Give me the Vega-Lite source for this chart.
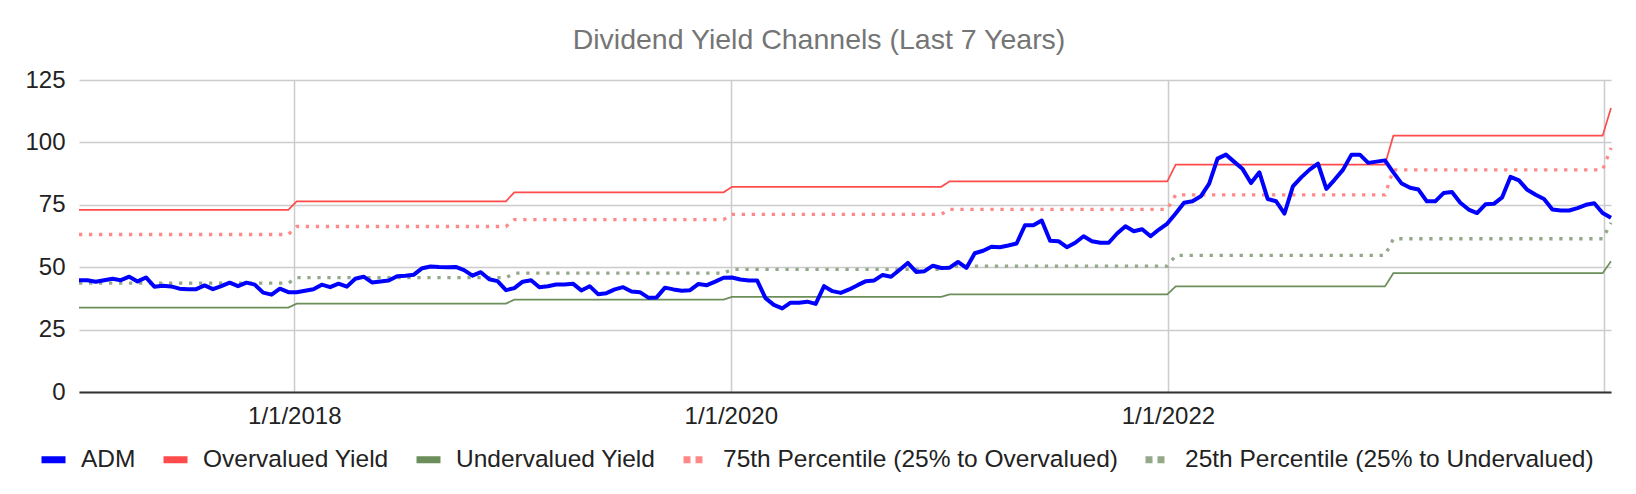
{
  "$schema": "https://vega.github.io/schema/vega-lite/v6.json",
  "autosize": {"type": "none"},
  "padding": {"left": 79, "top": 80, "right": 25, "bottom": 102},
  "width": 1532,
  "height": 312,
  "title": {
    "text": "Dividend Yield Channels (Last 7 Years)",
    "fontSize": 28.5,
    "fontWeight": "normal",
    "color": "#757575",
    "anchor": "middle",
    "dx": -26,
    "offset": 14
  },
  "datasets": {
    "adm": [
      {"date": "2017-01-06", "value": 44.8}, {"date": "2017-01-20", "value": 44.8}, {"date": "2017-02-03", "value": 44.2},
      {"date": "2017-02-17", "value": 44.8}, {"date": "2017-03-03", "value": 45.4}, {"date": "2017-03-17", "value": 44.8},
      {"date": "2017-03-31", "value": 46.2}, {"date": "2017-04-14", "value": 44.3}, {"date": "2017-04-28", "value": 45.9},
      {"date": "2017-05-12", "value": 42.2}, {"date": "2017-05-26", "value": 42.6}, {"date": "2017-06-09", "value": 42.3},
      {"date": "2017-06-23", "value": 41.4}, {"date": "2017-07-07", "value": 41.2}, {"date": "2017-07-21", "value": 41.2},
      {"date": "2017-08-04", "value": 42.7}, {"date": "2017-08-18", "value": 41.2}, {"date": "2017-09-01", "value": 42.4},
      {"date": "2017-09-15", "value": 43.8}, {"date": "2017-09-29", "value": 42.4}, {"date": "2017-10-13", "value": 43.8},
      {"date": "2017-10-27", "value": 43.0}, {"date": "2017-11-10", "value": 39.8}, {"date": "2017-11-24", "value": 39.0},
      {"date": "2017-12-08", "value": 41.4}, {"date": "2017-12-22", "value": 40.0},
      {"date": "2018-01-05", "value": 40.0}, {"date": "2018-01-19", "value": 40.6}, {"date": "2018-02-02", "value": 41.2},
      {"date": "2018-02-16", "value": 43.0}, {"date": "2018-03-02", "value": 42.0}, {"date": "2018-03-16", "value": 43.4},
      {"date": "2018-03-30", "value": 42.2}, {"date": "2018-04-13", "value": 45.4}, {"date": "2018-04-27", "value": 46.2},
      {"date": "2018-05-11", "value": 43.9}, {"date": "2018-05-25", "value": 44.3}, {"date": "2018-06-08", "value": 44.7},
      {"date": "2018-06-22", "value": 46.4}, {"date": "2018-07-06", "value": 46.6}, {"date": "2018-07-20", "value": 47.0},
      {"date": "2018-08-03", "value": 49.6}, {"date": "2018-08-17", "value": 50.3}, {"date": "2018-08-31", "value": 50.1},
      {"date": "2018-09-14", "value": 50.0}, {"date": "2018-09-28", "value": 50.1}, {"date": "2018-10-12", "value": 48.8},
      {"date": "2018-10-26", "value": 46.6}, {"date": "2018-11-09", "value": 48.0}, {"date": "2018-11-23", "value": 45.2},
      {"date": "2018-12-07", "value": 44.4}, {"date": "2018-12-21", "value": 40.8},
      {"date": "2019-01-04", "value": 41.6}, {"date": "2019-01-18", "value": 44.2}, {"date": "2019-02-01", "value": 44.8},
      {"date": "2019-02-15", "value": 42.0}, {"date": "2019-03-01", "value": 42.4}, {"date": "2019-03-15", "value": 43.1},
      {"date": "2019-03-29", "value": 43.1}, {"date": "2019-04-12", "value": 43.4}, {"date": "2019-04-26", "value": 40.7},
      {"date": "2019-05-10", "value": 42.4}, {"date": "2019-05-24", "value": 39.2}, {"date": "2019-06-07", "value": 39.6},
      {"date": "2019-06-21", "value": 41.1}, {"date": "2019-07-05", "value": 42.0}, {"date": "2019-07-19", "value": 40.3},
      {"date": "2019-08-02", "value": 40.0}, {"date": "2019-08-16", "value": 37.8}, {"date": "2019-08-30", "value": 37.9},
      {"date": "2019-09-13", "value": 41.8}, {"date": "2019-09-27", "value": 41.1}, {"date": "2019-10-11", "value": 40.6},
      {"date": "2019-10-25", "value": 40.8}, {"date": "2019-11-08", "value": 43.3}, {"date": "2019-11-22", "value": 42.8},
      {"date": "2019-12-06", "value": 44.2}, {"date": "2019-12-20", "value": 45.8},
      {"date": "2020-01-03", "value": 45.9}, {"date": "2020-01-17", "value": 45.1}, {"date": "2020-01-31", "value": 44.7},
      {"date": "2020-02-14", "value": 44.7}, {"date": "2020-02-28", "value": 37.6}, {"date": "2020-03-13", "value": 34.9},
      {"date": "2020-03-27", "value": 33.5}, {"date": "2020-04-10", "value": 35.8}, {"date": "2020-04-24", "value": 35.8},
      {"date": "2020-05-08", "value": 36.2}, {"date": "2020-05-22", "value": 35.3}, {"date": "2020-06-05", "value": 42.4},
      {"date": "2020-06-19", "value": 40.4}, {"date": "2020-07-03", "value": 39.7}, {"date": "2020-07-17", "value": 41.1},
      {"date": "2020-07-31", "value": 42.8}, {"date": "2020-08-14", "value": 44.4}, {"date": "2020-08-28", "value": 44.7},
      {"date": "2020-09-11", "value": 46.9}, {"date": "2020-09-25", "value": 46.2}, {"date": "2020-10-09", "value": 48.9},
      {"date": "2020-10-23", "value": 51.7}, {"date": "2020-11-06", "value": 48.1}, {"date": "2020-11-20", "value": 48.4},
      {"date": "2020-12-04", "value": 50.6}, {"date": "2020-12-18", "value": 49.7},
      {"date": "2021-01-01", "value": 49.8}, {"date": "2021-01-15", "value": 52.1}, {"date": "2021-01-29", "value": 49.7},
      {"date": "2021-02-12", "value": 55.6}, {"date": "2021-02-26", "value": 56.6}, {"date": "2021-03-12", "value": 58.2},
      {"date": "2021-03-26", "value": 58.0}, {"date": "2021-04-09", "value": 58.7}, {"date": "2021-04-23", "value": 59.5},
      {"date": "2021-05-07", "value": 66.8}, {"date": "2021-05-21", "value": 66.8}, {"date": "2021-06-04", "value": 68.7},
      {"date": "2021-06-18", "value": 60.6}, {"date": "2021-07-02", "value": 60.4}, {"date": "2021-07-16", "value": 58.0},
      {"date": "2021-07-30", "value": 59.8}, {"date": "2021-08-13", "value": 62.4}, {"date": "2021-08-27", "value": 60.4},
      {"date": "2021-09-10", "value": 59.8}, {"date": "2021-09-24", "value": 59.8}, {"date": "2021-10-08", "value": 63.5},
      {"date": "2021-10-22", "value": 66.4}, {"date": "2021-11-05", "value": 64.4}, {"date": "2021-11-19", "value": 65.2},
      {"date": "2021-12-03", "value": 62.4}, {"date": "2021-12-17", "value": 65.1}, {"date": "2021-12-31", "value": 67.5},
      {"date": "2022-01-14", "value": 71.5}, {"date": "2022-01-28", "value": 75.8}, {"date": "2022-02-11", "value": 76.4},
      {"date": "2022-02-25", "value": 78.4}, {"date": "2022-03-11", "value": 83.5}, {"date": "2022-03-25", "value": 93.5},
      {"date": "2022-04-08", "value": 95.1}, {"date": "2022-04-22", "value": 92.2}, {"date": "2022-05-06", "value": 89.3},
      {"date": "2022-05-20", "value": 83.7}, {"date": "2022-06-03", "value": 88.0}, {"date": "2022-06-17", "value": 77.3},
      {"date": "2022-07-01", "value": 76.4}, {"date": "2022-07-15", "value": 71.5}, {"date": "2022-07-29", "value": 82.4},
      {"date": "2022-08-12", "value": 86.0}, {"date": "2022-08-26", "value": 89.1}, {"date": "2022-09-09", "value": 91.5},
      {"date": "2022-09-23", "value": 81.4}, {"date": "2022-10-07", "value": 85.1}, {"date": "2022-10-21", "value": 89.1},
      {"date": "2022-11-04", "value": 95.1}, {"date": "2022-11-18", "value": 95.1}, {"date": "2022-12-02", "value": 91.8},
      {"date": "2022-12-16", "value": 92.3}, {"date": "2022-12-30", "value": 92.8},
      {"date": "2023-01-13", "value": 88.0}, {"date": "2023-01-27", "value": 83.5}, {"date": "2023-02-10", "value": 81.8},
      {"date": "2023-02-24", "value": 81.1}, {"date": "2023-03-10", "value": 76.4}, {"date": "2023-03-24", "value": 76.4},
      {"date": "2023-04-07", "value": 79.7}, {"date": "2023-04-21", "value": 80.1}, {"date": "2023-05-05", "value": 75.8},
      {"date": "2023-05-19", "value": 73.1}, {"date": "2023-06-02", "value": 71.7}, {"date": "2023-06-16", "value": 75.2},
      {"date": "2023-06-30", "value": 75.4}, {"date": "2023-07-14", "value": 78.0}, {"date": "2023-07-28", "value": 86.2},
      {"date": "2023-08-11", "value": 84.8}, {"date": "2023-08-25", "value": 81.0}, {"date": "2023-09-08", "value": 79.0},
      {"date": "2023-09-22", "value": 77.3}, {"date": "2023-10-06", "value": 73.1}, {"date": "2023-10-20", "value": 72.7},
      {"date": "2023-11-03", "value": 72.7}, {"date": "2023-11-17", "value": 73.7}, {"date": "2023-12-01", "value": 75.0},
      {"date": "2023-12-15", "value": 75.6}, {"date": "2023-12-29", "value": 71.7},
      {"date": "2024-01-12", "value": 69.8}
    ],
    "bands": [
      {"date": "2017-01-06", "over": 73.0, "p75": 63.1, "p25": 43.6, "under": 33.8},
      {"date": "2017-12-22", "over": 73.0, "p75": 63.1, "p25": 43.6, "under": 33.8},
      {"date": "2018-01-05", "over": 76.4, "p75": 66.3, "p25": 45.8, "under": 35.4},
      {"date": "2018-12-21", "over": 76.4, "p75": 66.3, "p25": 45.8, "under": 35.4},
      {"date": "2019-01-04", "over": 80.0, "p75": 69.1, "p25": 47.6, "under": 37.0},
      {"date": "2019-12-20", "over": 80.0, "p75": 69.1, "p25": 47.6, "under": 37.0},
      {"date": "2020-01-03", "over": 82.2, "p75": 71.2, "p25": 49.1, "under": 38.1},
      {"date": "2020-12-18", "over": 82.2, "p75": 71.2, "p25": 49.1, "under": 38.1},
      {"date": "2021-01-01", "over": 84.4, "p75": 73.2, "p25": 50.4, "under": 39.1},
      {"date": "2021-12-31", "over": 84.4, "p75": 73.2, "p25": 50.4, "under": 39.1},
      {"date": "2022-01-14", "over": 91.1, "p75": 79.0, "p25": 54.7, "under": 42.3},
      {"date": "2022-12-30", "over": 91.1, "p75": 79.0, "p25": 54.7, "under": 42.3},
      {"date": "2023-01-13", "over": 102.7, "p75": 89.0, "p25": 61.4, "under": 47.6},
      {"date": "2023-12-29", "over": 102.7, "p75": 89.0, "p25": 61.4, "under": 47.6},
      {"date": "2024-01-12", "over": 113.8, "p75": 97.8, "p25": 67.8, "under": 52.4}
    ],
    "names": [
      {"key": "over", "series": "Overvalued Yield"},
      {"key": "under", "series": "Undervalued Yield"},
      {"key": "p75", "series": "75th Percentile (25% to Overvalued)"},
      {"key": "p25", "series": "25th Percentile (25% to Undervalued)"}
    ]
  },
  "encoding": {
    "x": {
      "field": "date",
      "type": "temporal",
      "scale": {"type": "utc"},
      "axis": {
        "title": null,
        "values": [
          {"year": 2018, "month": 1, "date": 1, "utc": true},
          {"year": 2020, "month": 1, "date": 1, "utc": true},
          {"year": 2022, "month": 1, "date": 1, "utc": true},
          {"year": 2024, "month": 1, "date": 1, "utc": true}
        ],
        "labelExpr": "utcyear(datum.value) == 2024 ? '' : utcFormat(datum.value, '%-m/%-d/%Y')",
        "grid": true,
        "ticks": false,
        "domain": true,
        "domainColor": "#333333",
        "domainWidth": 2,
        "labelPadding": 12,
        "labelFlush": false,
        "labelOverlap": false
      }
    },
    "y": {
      "field": "value",
      "type": "quantitative",
      "scale": {"domain": [0, 125], "nice": false},
      "axis": {
        "title": null,
        "values": [0, 25, 50, 75, 100, 125],
        "grid": true,
        "ticks": false,
        "domain": false,
        "labelPadding": 14
      }
    },
    "color": {
      "field": "series",
      "type": "nominal",
      "scale": {
        "domain": ["ADM", "Overvalued Yield", "Undervalued Yield", "75th Percentile (25% to Overvalued)", "25th Percentile (25% to Undervalued)"],
        "range": ["#0000ff", "#ff4b4b", "#6b8e5b", "#ff8888", "#93a98a"]
      },
      "legend": {
        "title": null,
        "orient": "none",
        "direction": "horizontal",
        "legendX": -41,
        "legendY": 364,
        "symbolType": "stroke",
        "symbolSize": 576,
        "symbolStrokeWidth": 7,
        "labelFontSize": 24.5,
        "labelColor": "#222222",
        "labelOffset": 12,
        "labelLimit": 600,
        "columnPadding": 13,
        "padding": 0,
        "encode": {
          "symbols": {
            "update": {
              "strokeWidth": {"value": 7},
              "strokeDash": {"signal": "indexof(datum.value, 'Percentile') >= 0 ? [7, 5] : [1, 0]"}
            }
          }
        }
      }
    }
  },
  "layer": [
    {
      "data": {"name": "bands"},
      "transform": [
        {"fold": ["over", "under"], "as": ["key", "value"]},
        {"lookup": "key", "from": {"data": {"name": "names"}, "key": "key", "fields": ["series"]}}
      ],
      "mark": {"type": "line", "strokeWidth": 1.7}
    },
    {
      "data": {"name": "bands"},
      "transform": [
        {"fold": ["p75", "p25"], "as": ["key", "value"]},
        {"lookup": "key", "from": {"data": {"name": "names"}, "key": "key", "fields": ["series"]}}
      ],
      "mark": {"type": "line", "strokeWidth": 3.3, "strokeDash": [3.3, 6.7]}
    },
    {
      "data": {"name": "adm"},
      "mark": {"type": "line", "strokeWidth": 4, "strokeJoin": "round"},
      "encoding": {
        "color": {"datum": "ADM", "type": "nominal"}
      }
    }
  ],
  "config": {
    "font": "Liberation Sans",
    "view": {"stroke": null},
    "axis": {
      "labelFontSize": 24,
      "labelColor": "#222222",
      "gridColor": "#cccccc",
      "gridWidth": 1.5
    }
  }
}
